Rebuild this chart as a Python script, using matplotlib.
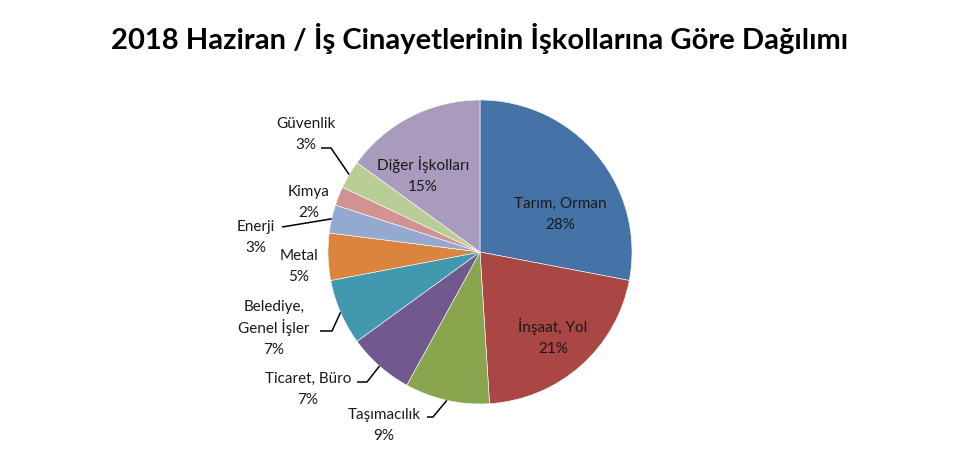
import numpy as np
import matplotlib
matplotlib.use("Agg")
import matplotlib.pyplot as plt

# slices, clockwise from 12 o'clock
categories = ["Tarım, Orman", "İnşaat, Yol", "Taşımacılık", "Ticaret, Büro",
              "Belediye,\nGenel İşler", "Metal", "Enerji", "Kimya", "Güvenlik",
              "Diğer İşkolları"]
shares = [28, 21, 9, 7, 7, 5, 3, 2, 3, 15]
colors = ["#4572A7", "#AA4643", "#89A54E", "#71588F", "#4198AF",
          "#DB843D", "#93A9CF", "#D19392", "#B9CD96", "#A99BBD"]
title = "2018 Haziran / İş Cinayetlerinin İşkollarına Göre Dağılımı"

# label layout (pixel coords, y down) and leader line start points
label_pos = [(560, 213), (553, 337), (384, 424), (308, 388), (274, 327),
             (299, 265), (256, 236), (309, 201), (306, 133), (423, 175)]
leader_pts = {2: [(427, 417), (433, 417)],
              3: [(357, 382), (367, 382)],
              4: [(320, 331), (332, 331)],
              6: [(282, 227)],
              8: [(321, 148), (331, 148)]}
line_gap = 21  # px between text lines

plt.rcParams["font.family"] = ["Lato", "DejaVu Sans"]

W, H = 960, 450
fig = plt.figure(figsize=(W / 100, H / 100), dpi=100)
ax = fig.add_axes([0, 0, 1, 1])

cx, cy, r = 480, H - 252, 152
wedges, _ = ax.pie(shares, colors=colors, startangle=90, counterclock=False,
                   center=(cx, cy), radius=r, frame=True,
                   wedgeprops=dict(edgecolor="white", linewidth=0.4))
ax.set_xlim(0, W)
ax.set_ylim(0, H)
ax.set_aspect("equal")
ax.axis("off")

for i, (cat, val) in enumerate(zip(categories, shares)):
    lx, ly = label_pos[i]
    lines = cat.split("\n") + [f"{val}%"]
    top = ly - line_gap * (len(lines) - 1) / 2
    for k, s in enumerate(lines):
        # baseline placement keeps line spacing even (İ accent)
        ax.text(lx, H - (top + k * line_gap + 5.5), s, ha="center",
                va="baseline", fontsize=11, color="#1a1a1a")
    if i in leader_pts:
        w = wedges[i]
        mid = np.deg2rad((w.theta1 + w.theta2) / 2)
        ex, ey = cx + r * np.cos(mid), cy + r * np.sin(mid)
        pts = [(x, H - y) for x, y in leader_pts[i]] + [(ex, ey)]
        xs, ys = zip(*pts)
        ax.plot(xs, ys, color="black", lw=1.1, solid_capstyle="butt")

fig.text(0.5, 1 - 38 / H, title, ha="center", va="center",
         fontsize=21, fontweight="bold", color="black")

fig.savefig("out.png", dpi=100, facecolor="white")
